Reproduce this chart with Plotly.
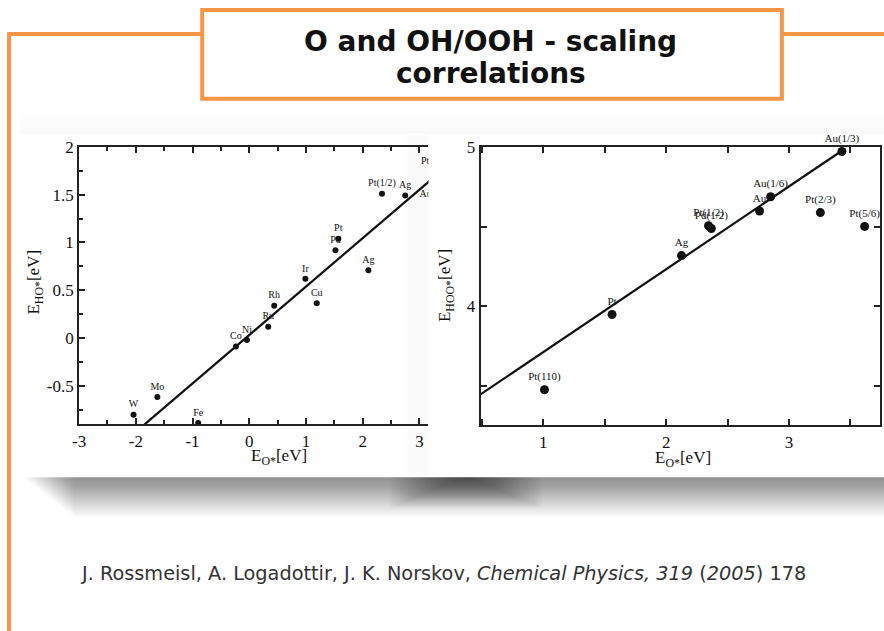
import plotly.graph_objects as go

# ---------------- data ----------------
# Left panel: E_HO* vs E_O*
left_names = ["W", "Mo", "Fe", "Co", "Ni", "Ru", "Rh", "Cu", "Ir", "Pd", "Pt", "Ag", "Pt(1/2)", "Ag", "Au", "Pt"]
left_eo = [-2.04, -1.62, -0.90, -0.235, -0.04, 0.335, 0.44, 1.19, 0.99, 1.52, 1.57, 2.10, 2.34, 2.75, 3.30, 3.26]
left_eho = [-0.80, -0.615, -0.885, -0.0875, -0.02, 0.12, 0.34, 0.365, 0.62, 0.92, 1.04, 0.71, 1.51, 1.49, 1.40, 1.74]
left_label_pos = ["top center"] * 14 + ["top left", "top left"]
left_fit_slope = 0.506
left_fit_intercept = 0.033
left_fit_x = [-1.85, 3.4]
left_xticks = [-3, -2, -1, 0, 1, 2, 3]
left_xticktext = ["-3", "-2", "-1", "0", "1", "2", "3"]
left_yticks = [-0.5, 0, 0.5, 1, 1.5, 2]
left_yticktext = ["-0.5", "0", "0.5", "1", "1.5", "2"]

# Right panel: E_HOO* vs E_O*
right_names = ["Pt(110)", "Pt", "Ag", "Pt(1/2)", "Pd(1/2)", "Au", "Au(1/6)", "Pt(2/3)", "Pt(5/6)", "Au(1/3)"]
right_eo = [1.01, 1.56, 2.125, 2.345, 2.368, 2.76, 2.85, 3.255, 3.615, 3.43]
right_ehoo = [3.474, 3.948, 4.319, 4.507, 4.49, 4.60, 4.69, 4.59, 4.503, 4.975]
right_fit_slope = 0.522
right_fit_intercept = 3.189
right_fit_x = [0.49, 3.43]
right_xticks = [1, 2, 3]
right_yticks = [4, 5]

W, H = 884, 631
# page coordinates -> paper (the page shows the figure offset by 8px)
def px(x):
    return (x - 8) / (W - 8)
def py(y):
    return 1 - (y - 8) / (H - 8)

ORANGE = "rgb(247,150,70)"
SERIF = "Liberation Serif, Times New Roman, serif"

fig = go.Figure()

fig.add_trace(go.Scatter(
    x=left_fit_x, y=[left_fit_slope * v + left_fit_intercept for v in left_fit_x],
    mode="lines", line=dict(color="#111", width=2.2), xaxis="x", yaxis="y",
    showlegend=False, hoverinfo="skip"))
fig.add_trace(go.Scatter(
    x=left_eo, y=left_eho, mode="markers+text", text=left_names,
    textposition=left_label_pos, textfont=dict(family=SERIF, size=10, color="#111"),
    marker=dict(color="#111", size=6), xaxis="x", yaxis="y",
    cliponaxis=True, showlegend=False))

fig.add_trace(go.Scatter(
    x=right_fit_x, y=[right_fit_slope * v + right_fit_intercept for v in right_fit_x],
    mode="lines", line=dict(color="#111", width=2.2), xaxis="x2", yaxis="y2",
    showlegend=False, hoverinfo="skip"))
fig.add_trace(go.Scatter(
    x=right_eo, y=right_ehoo, mode="markers+text", text=right_names,
    textposition="top center", textfont=dict(family=SERIF, size=11, color="#111"),
    marker=dict(color="#111", size=9), xaxis="x2", yaxis="y2",
    cliponaxis=False, showlegend=False))

axis_common = dict(showline=True, linecolor="#222", linewidth=2, ticks="inside",
                   tickcolor="#222", tickwidth=1.5, ticklen=6, showgrid=False,
                   zeroline=False, tickfont=dict(family=SERIF, size=17, color="#111"))

shapes = []
# very faint gray band above the pasted figures
for i in range(6):
    shapes.append(dict(type="rect", xref="paper", yref="paper", layer="below",
                       x0=px(20), x1=px(890), y0=py(134), y1=py(134 - 4 * (i + 1)),
                       fillcolor="rgba(0,0,0,0.005)", line=dict(width=0)))
# shadow below the figures (soft gradient)
for i in range(40):
    shapes.append(dict(type="rect", xref="paper", yref="paper", layer="below",
                       x0=px(24 + i * 1.3), x1=px(890), y0=py(477), y1=py(477 + 1 * (i + 1)),
                       fillcolor="rgba(0,0,0,0.012)", line=dict(width=0)))
for i in range(28):
    w = 6 + i * 2.6
    shapes.append(dict(type="rect", xref="paper", yref="paper", layer="below",
                       x0=px(466 - w), x1=px(466 + w), y0=py(477), y1=py(478 + i * 1.1),
                       fillcolor="rgba(0,0,0,0.018)", line=dict(width=0)))
# faint strip at right edge of the left figure
shapes.append(dict(type="rect", xref="paper", yref="paper", layer="below",
                   x0=px(408), x1=px(430), y0=py(477), y1=py(134),
                   fillcolor="rgba(0,0,0,0.015)", line=dict(width=0)))
# orange frame lines
shapes.append(dict(type="line", xref="paper", yref="paper", x0=px(10), x1=px(10),
                   y0=py(31.5), y1=py(650), line=dict(color=ORANGE, width=4)))
shapes.append(dict(type="line", xref="paper", yref="paper", x0=px(8.5), x1=px(203),
                   y0=py(33), y1=py(33), line=dict(color=ORANGE, width=4)))
shapes.append(dict(type="line", xref="paper", yref="paper", x0=px(782), x1=px(900),
                   y0=py(33), y1=py(33), line=dict(color=ORANGE, width=4)))
shapes.append(dict(type="rect", xref="paper", yref="paper", x0=px(203), x1=px(782),
                   y0=py(98), y1=py(9), line=dict(color=ORANGE, width=4),
                   fillcolor="white"))

annotations = [
    dict(text="<b>O and OH/OOH - scaling</b>", xref="paper", yref="paper",
         x=px(491), y=py(41), showarrow=False, xanchor="center", yanchor="middle",
         font=dict(family="DejaVu Sans", size=28, color="#111")),
    dict(text="<b>correlations</b>", xref="paper", yref="paper",
         x=px(491), y=py(73), showarrow=False, xanchor="center", yanchor="middle",
         font=dict(family="DejaVu Sans", size=28, color="#111")),
    dict(text="J. Rossmeisl, A. Logadottir, J. K. Norskov, <i>Chemical Physics, 319</i> (<i>2005</i>) 178",
         xref="paper", yref="paper", x=px(80), y=py(573), showarrow=False,
         xanchor="left", yanchor="middle",
         font=dict(family="DejaVu Sans", size=19.3, color="#333")),
    dict(text="E<sub>O*</sub>[eV]", xref="paper", yref="paper", x=px(280), y=py(457),
         showarrow=False, xanchor="center", yanchor="middle",
         font=dict(family=SERIF, size=17, color="#111")),
    dict(text="E<sub>O*</sub>[eV]", xref="paper", yref="paper", x=px(683), y=py(459),
         showarrow=False, xanchor="center", yanchor="middle",
         font=dict(family=SERIF, size=17, color="#111")),
    dict(text="E<sub>HO*</sub>[eV]", xref="paper", yref="paper", x=px(36), y=py(282),
         showarrow=False, xanchor="center", yanchor="middle", textangle=-90,
         font=dict(family=SERIF, size=17, color="#111")),
    dict(text="E<sub>HOO*</sub>[eV]", xref="paper", yref="paper", x=px(446), y=py(285),
         showarrow=False, xanchor="center", yanchor="middle", textangle=-90,
         font=dict(family=SERIF, size=17, color="#111")),
]

fig.update_layout(
    width=W, height=H, margin=dict(l=0, r=0, t=0, b=0),
    paper_bgcolor="white", plot_bgcolor="rgba(0,0,0,0)",
    shapes=shapes, annotations=annotations,
    xaxis=dict(domain=[px(80), px(429)], range=[-3, 3.16], anchor="y",
               tickmode="array", tickvals=left_xticks, ticktext=left_xticktext,
               mirror="ticks",
               minor=dict(ticks="inside", ticklen=4, dtick=0.5, tick0=0, tickcolor="#222", tickwidth=1.5),
               **axis_common),
    yaxis=dict(domain=[py(424), py(146)], range=[-0.9, 2.0], anchor="x",
               tickmode="array", tickvals=left_yticks, ticktext=left_yticktext,
               mirror=False,
               minor=dict(ticks="inside", ticklen=4, dtick=0.25, tick0=0, tickcolor="#222", tickwidth=1.5),
               **axis_common),
    xaxis2=dict(domain=[px(481), px(880)], range=[0.49, 3.74], anchor="y2",
                tickmode="array", tickvals=right_xticks, mirror="ticks",
                minor=dict(ticks="inside", ticklen=6, dtick=0.5, tick0=0, tickcolor="#222", tickwidth=1.5),
                **axis_common),
    yaxis2=dict(domain=[py(425), py(146.7)], range=[3.25, 5.0], anchor="x2",
                tickmode="array", tickvals=right_yticks, mirror="ticks",
                minor=dict(ticks="inside", ticklen=6, dtick=0.5, tick0=0, tickcolor="#222", tickwidth=1.5),
                **axis_common),
)

fig.write_html("out.html")
